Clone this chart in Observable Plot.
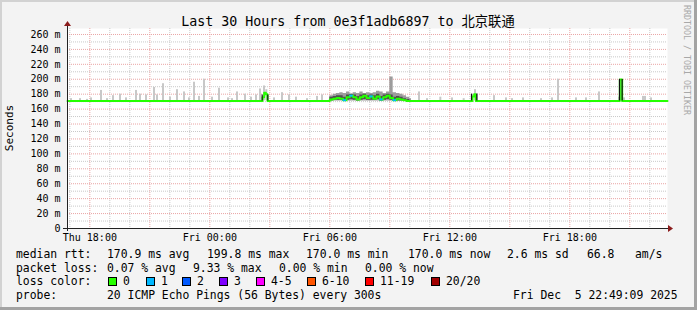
<!DOCTYPE html>
<html><head><meta charset="utf-8">
<script src="https://cdn.jsdelivr.net/npm/d3@7"></script>
<script src="https://cdn.jsdelivr.net/npm/@observablehq/plot@0.6"></script>
<style>
html,body{margin:0;padding:0;background:#f3f3f3;}
#wrap{width:697px;height:310px;}
svg text{white-space:pre;}
</style></head><body><div id="wrap"></div>
<script>
// ---------- data ----------
const titleText = "Last 30 Hours from 0e3f1adb6897 to 北京联通";
const domainStart = "Thu 16:53";
const domainEnd = "Fri 22:53";
const yTicks = [0,20,40,60,80,100,120,140,160,180,200,220,240,260];
const xTickLabels = ["Thu 18:00","Fri 00:00","Fri 06:00","Fri 12:00","Fri 18:00"];
const smokeBase = 171;

// isolated smoke spikes (top of ping spread, ms)
const spikeTime = ["Thu 17:02","Thu 17:29","Thu 17:50","Thu 18:02","Thu 18:32","Thu 18:50","Thu 19:08","Thu 19:29","Thu 19:47",
  "Thu 20:17","Thu 20:29","Thu 20:47","Thu 21:11","Thu 21:20","Thu 21:38","Thu 21:59","Thu 22:20","Thu 22:41","Thu 22:56",
  "Thu 23:11","Thu 23:26","Thu 23:41","Fri 00:05","Fri 00:26","Fri 00:53","Fri 01:05","Fri 01:20","Fri 01:44","Fri 02:02",
  "Fri 02:17","Fri 02:29","Fri 02:41","Fri 02:48","Fri 03:11","Fri 03:35","Fri 03:56","Fri 04:17","Fri 04:50","Fri 05:20","Fri 05:35",
  "Fri 10:26","Fri 10:50","Fri 11:30","Fri 12:05","Fri 12:40","Fri 13:05","Fri 13:14","Fri 13:20","Fri 14:11","Fri 14:47","Fri 15:05",
  "Fri 15:38","Fri 16:32","Fri 17:05","Fri 17:23","Fri 18:17","Fri 18:47","Fri 19:26","Fri 20:26","Fri 20:41","Fri 21:38","Fri 21:44","Fri 22:02"];
const spikeTop = [174,174,173,175,185,174,178,180,175,
  185,180,179,189,179,194,176,186,183,175,
  196,177,200,176,188,175,174,183,180,176,
  179,187,191,186,175,182,179,176,174,177,179,
  183,174,176,175,174,180,186,181,178,175,174,
  175,174,175,200,175,175,183,176,175,177,177,175];

// busy period around Fri 06:00-10:00
const denseTime = ["Fri 06:00","Fri 06:10","Fri 06:20","Fri 06:30","Fri 06:40","Fri 06:50","Fri 07:00","Fri 07:10","Fri 07:20",
  "Fri 07:30","Fri 07:40","Fri 07:50","Fri 08:00","Fri 08:10","Fri 08:20","Fri 08:30","Fri 08:40","Fri 08:50","Fri 09:00",
  "Fri 09:10","Fri 09:20","Fri 09:30","Fri 09:40","Fri 09:50","Fri 10:00","Fri 10:05"];
const denseMax = [178,180,181,182,181,183,180,182,181,183,181,182,181,182,184,183,181,183,203,182,181,180,178,176,174,171];
const denseCoreLow = [171,172,172,172,171,172,173,172,171,172,173,172,172,172,173,171,172,173,172,171,171,171,171,171,171,171];
const denseCoreHigh = [176,177,178,178,176,179,180,179,177,179,180,178,179,178,180,177,179,180,179,176,177,176,174,173,171,171];

// median RTT (step values) and packets lost per step
const medianTime = ["Thu 16:53","Fri 02:38","Fri 02:43","Fri 02:48","Fri 02:53",
  "Fri 06:00","Fri 06:10","Fri 06:20","Fri 06:30","Fri 06:40","Fri 06:50","Fri 07:00","Fri 07:10","Fri 07:20",
  "Fri 07:30","Fri 07:40","Fri 07:50","Fri 08:00","Fri 08:10","Fri 08:20","Fri 08:30","Fri 08:40","Fri 08:50","Fri 09:00",
  "Fri 09:10","Fri 09:20","Fri 09:30","Fri 09:40","Fri 09:50","Fri 10:00",
  "Fri 13:08","Fri 13:13","Fri 13:18","Fri 20:30","Fri 20:37","Fri 22:53"];
const medianValue = [171,176,182,180,171,
  173,174,175,174,172,176,178,176,173,176,178,175,177,174,177,173,176,178,175,172,174,173,172,171,171,
  177,180,171,199.8,171,171];
const medianLoss = [0,0,0,0,0,
  0,0,0,0,1,0,1,0,0,0,0,0,1,0,0,1,0,0,0,1,0,0,0,0,0,
  0,0,0,0,0,0];

// dark edges of median jumps
const edgeTime = ["Fri 02:37","Fri 02:54","Fri 13:05","Fri 13:21","Fri 20:29","Fri 20:37"];
const edgeTop = [179,179,180,180,199.8,199.8];

const lossLabels = ["0","1","2","3","4-5","6-10","11-19","20/20"];
const lossColors = ["#26ff00","#00b8ff","#0059ff","#7e00ff","#ff00ff","#ff5500","#ff0000","#a10000"];

// ---------- helpers ----------
const dayDate = {Thu:[2025,11,4], Fri:[2025,11,5]};
function T(s){const [d,hm]=s.split(" ");const [h,m]=hm.split(":").map(Number);const [Y,M,D]=dayDate[d];return new Date(Y,M,D,h,m);}
const t0 = T(domainStart), t1 = T(domainEnd);
const spikes = spikeTime.map((s,i)=>({t:T(s), t2:d3.timeMinute.offset(T(s),6), top:spikeTop[i]}));
const dense = denseTime.map((s,i)=>({t:T(s), max:denseMax[i], lo:denseCoreLow[i], hi:denseCoreHigh[i]}));
const median = medianTime.map((s,i)=>({t:T(s), v:medianValue[i], loss:medianLoss[i]}));
const lossSeg = median.map((d,i)=>({...d, t2: i+1<median.length ? median[i+1].t : t1})).filter(d=>d.loss>0);
const edges = edgeTime.map((s,i)=>({t:T(s), top:edgeTop[i]}));
const xTicks = xTickLabels.map(T);
const hours = d3.timeHour.range(t0, t1);
const hourMinor = hours.filter(d=>d.getHours()%3!==0);
const hourMajor = hours.filter(d=>d.getHours()%3===0);
const yMinor = d3.range(10, 268, 20);

const FONT = "'DejaVu Sans Mono', 'Noto Sans CJK SC', monospace";
const gridGray = "#c9c9c9", gridRed = "#eaa5a5";

const chart = Plot.plot({
  width: 697, height: 310,
  marginLeft: 67, marginRight: 30, marginTop: 28, marginBottom: 82,
  style: {background: "#f3f3f3", fontFamily: FONT, fontSize: "10px", color: "#000", overflow: "visible"},
  x: {type: "time", domain: [t0, t1]},
  y: {domain: [0, 268]},
  color: {type: "identity"},
  marks: [
    Plot.frame({fill: "white", stroke: null}),
    Plot.ruleX(hourMinor, {stroke: gridGray, strokeDasharray: "1,1"}),
    Plot.ruleY(yMinor, {stroke: gridGray, strokeDasharray: "1,1"}),
    Plot.ruleX(hourMajor, {stroke: gridRed, strokeDasharray: "1,1"}),
    Plot.ruleY(yTicks.filter(d=>d>0), {stroke: gridRed, strokeDasharray: "1,1"}),
    Plot.rect(spikes, {x1: "t", x2: "t2", y1: smokeBase, y2: "top", fill: "#c8c8c8"}),
    Plot.areaY(dense, {x: "t", y1: smokeBase, y2: "max", curve: "step-after", fill: "#9c9c9c"}),
    Plot.areaY(dense, {x: "t", y1: "lo", y2: "hi", curve: "step-after", fill: "#505050"}),
    Plot.line(median.concat([{t: t1, v: 171}]), {x: "t", y: "v", curve: "step-after", stroke: lossColors[0], strokeWidth: 2}),
    Plot.ruleY(lossSeg, {y: "v", x1: "t", x2: "t2", stroke: d => lossColors[d.loss], strokeWidth: 2}),
    Plot.ruleX(edges, {x: "t", y1: smokeBase, y2: "top", stroke: "#111", strokeWidth: 1.2}),
    Plot.axisY({ticks: yTicks, tickFormat: d => d === 0 ? "0" : d + " m", tickSize: 0, tickPadding: 7, label: null, fontSize: 10}),
    Plot.axisX({ticks: xTicks, tickFormat: d3.timeFormat("%a %H:%M"), tickSize: 0, tickPadding: 5, label: null, fontSize: 10})
  ]
});
document.getElementById("wrap").appendChild(chart);

// ---------- decorations / texts ----------
const svg = d3.select(chart);
const sx = chart.scale("x"), sy = chart.scale("y");
const X0 = sx.apply(t0), X1 = sx.apply(t1), Y0 = sy.apply(0), YT = sy.apply(268);
// axes lines
svg.append("line").attr("x1", X0 - 4).attr("x2", X1 + 1).attr("y1", Y0 + 0.5).attr("y2", Y0 + 0.5).attr("stroke", "#222");
svg.append("line").attr("x1", X0 + 0.5).attr("x2", X0 + 0.5).attr("y1", YT - 2).attr("y2", Y0 + 3).attr("stroke", "#222");
// arrows
svg.append("path").attr("d", `M${X0-3},${YT-2} L${X0+4},${YT-2} L${X0+0.5},${YT-7} Z`).attr("fill", "#8b1c1c");
svg.append("path").attr("d", `M${X1+1},${Y0-3} L${X1+1},${Y0+4} L${X1+6},${Y0+0.5} Z`).attr("fill", "#8b1c1c");
// frame of image
svg.append("rect").attr("x", 0).attr("y", 0).attr("width", 697).attr("height", 2).attr("fill", "#d2d2d2");
svg.append("rect").attr("x", 0).attr("y", 0).attr("width", 2).attr("height", 310).attr("fill", "#d2d2d2");
svg.append("rect").attr("x", 0).attr("y", 307).attr("width", 697).attr("height", 3).attr("fill", "#a3a3a3");
svg.append("rect").attr("x", 694).attr("y", 0).attr("width", 3).attr("height", 310).attr("fill", "#a3a3a3");

function txt(x, y, s, opts = {}) {
  const t = svg.append("text").attr("x", x).attr("y", y).text(s)
    .attr("font-family", FONT).attr("font-size", opts.size || "11.4px").attr("fill", opts.fill || "#000")
    .attr("text-anchor", opts.anchor || "start");
  if (opts.transform) t.attr("transform", opts.transform);
  return t;
}
txt(348, 26, titleText, {size: "13.3px", anchor: "middle"});
txt(0, 0, "Seconds", {size: "11px", anchor: "middle", transform: "translate(13,128) rotate(-90)"});
txt(0, 0, "RRDTOOL / TOBI OETIKER", {size: "8.3px", fill: "#a8a8a8", transform: "translate(684,5) rotate(90)"});

const legendRows = [
  [[16, "median rtt:"], [107, "170.9 ms avg"], [207, "199.8 ms max"], [306, "170.0 ms min"], [408, "170.0 ms now"], [507, "2.6 ms sd"], [587, "66.8"], [635, "am/s"]],
  [[16, "packet loss:"], [107, "0.07 % avg"], [193, "9.33 % max"], [279, "0.00 % min"], [365, "0.00 % now"]],
  [[16, "loss color:"]],
  [[16, "probe:"], [107, "20 ICMP Echo Pings (56 Bytes) every 300s"], [513, "Fri Dec  5 22:49:09 2025"]]
];
const rowY = [258, 271.5, 285, 298.5];
legendRows.forEach((row, r) => row.forEach(([x, s]) => txt(x, rowY[r], s)));
const boxX = [108, 146, 182, 219, 256, 307, 365, 431];
lossLabels.forEach((lab, i) => {
  svg.append("rect").attr("x", boxX[i] + 0.5).attr("y", 277.5).attr("width", 8).attr("height", 8)
    .attr("fill", lossColors[i]).attr("stroke", "#000");
  txt(boxX[i] + 15, rowY[2], lab);
});
</script></body></html>
